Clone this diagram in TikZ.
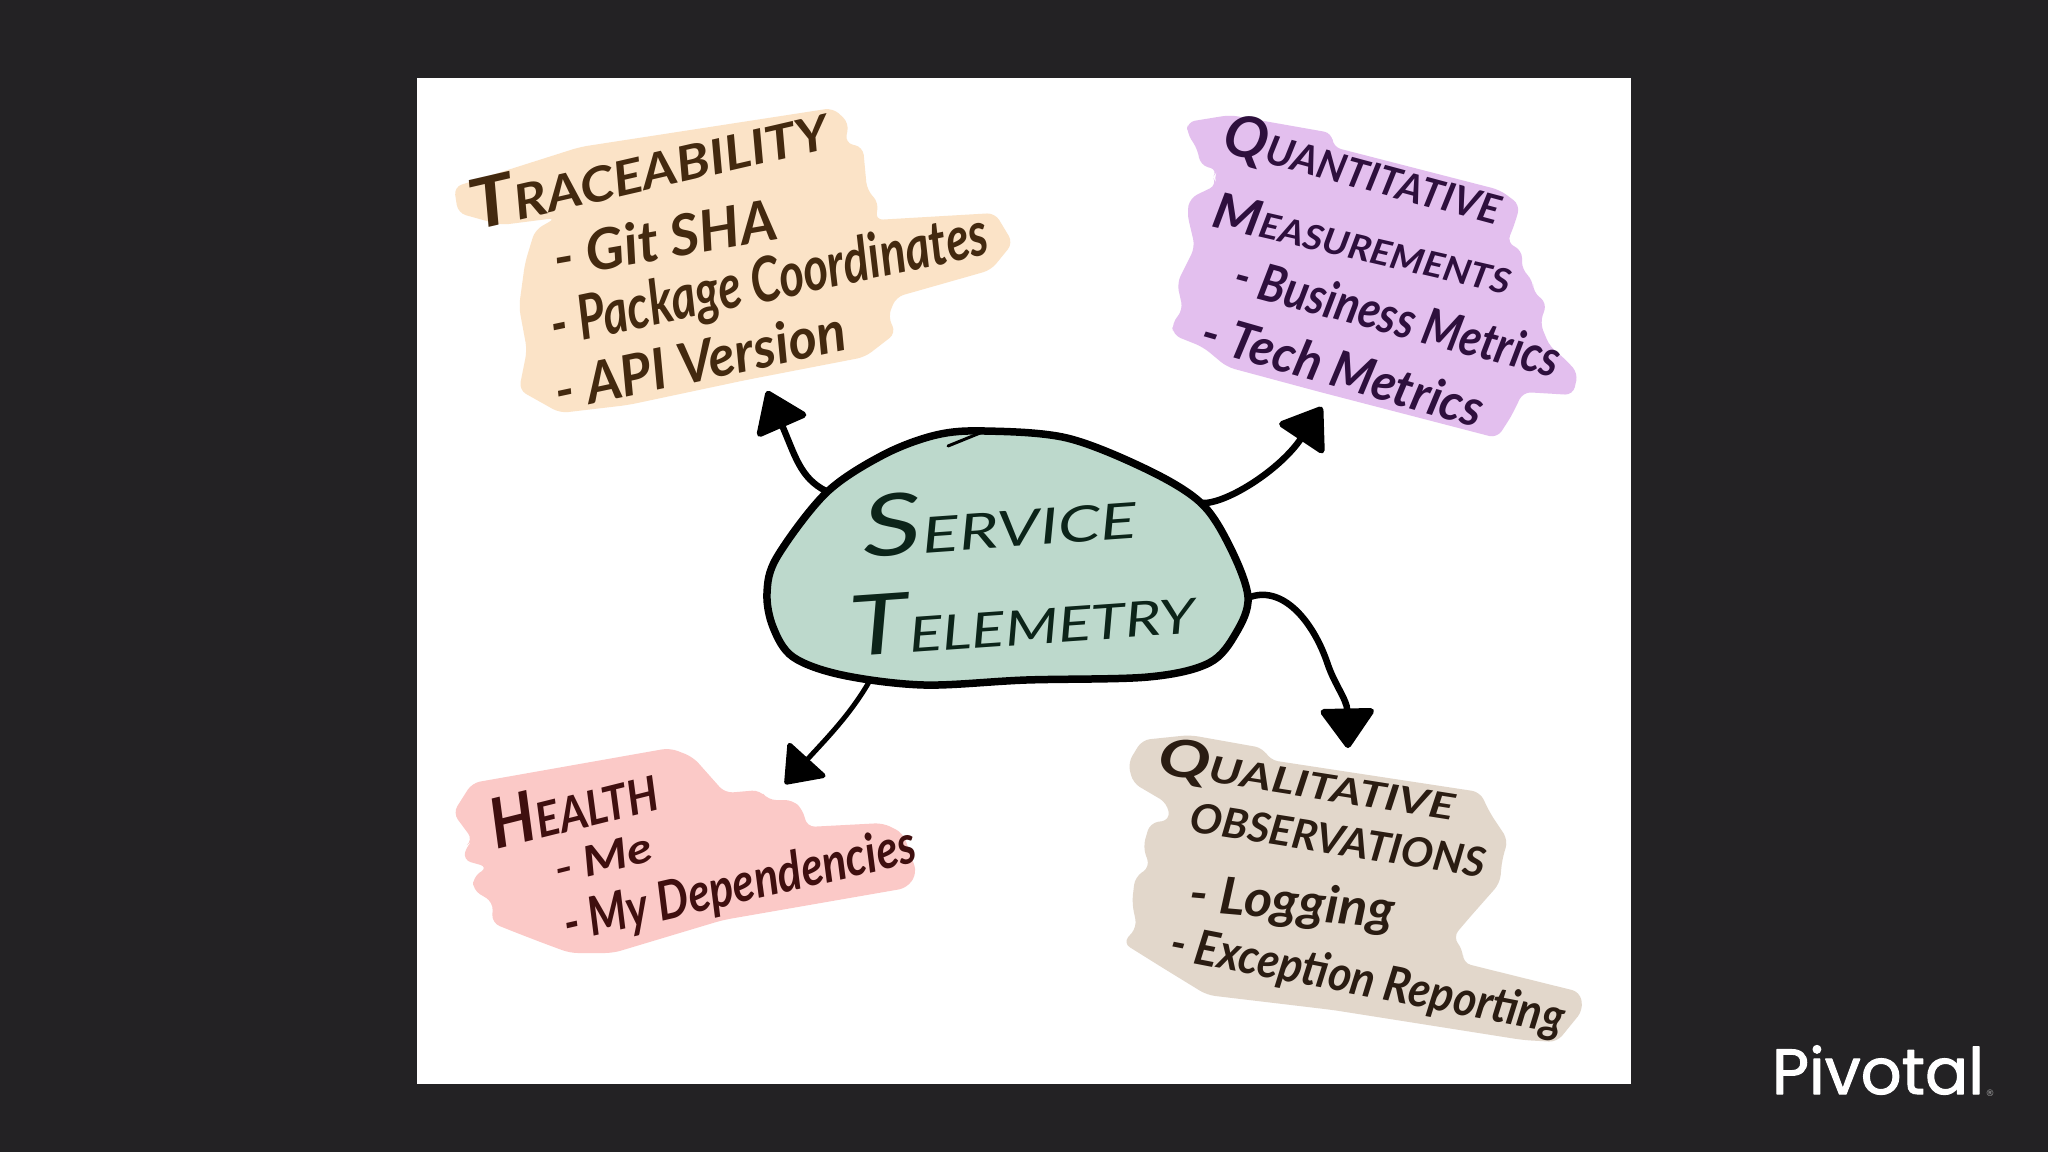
\documentclass[tikz,border=0pt]{standalone}
\usepackage{fontspec}
\usepackage{graphicx}
\setmainfont{Lato}
\newfontfamily\logofont{Poppins}[RawFeature={embolden=1.6}]
\newfontfamily\regfont{DejaVu Sans}
\usetikzlibrary{arrows.meta}
\definecolor{slidebg}{HTML}{232224}
\definecolor{yellowpatch}{HTML}{FBE3C7}
\definecolor{purplepatch}{HTML}{E3BFEE}
\definecolor{redpatch}{HTML}{FBC9C7}
\definecolor{beigepatch}{HTML}{E2D7CB}
\definecolor{blobfill}{HTML}{BDD9CC}
\definecolor{yellowink}{HTML}{43290F}
\definecolor{purpleink}{HTML}{2E0F3D}
\definecolor{redink}{HTML}{3F0F0F}
\definecolor{beigeink}{HTML}{2A1C12}
\definecolor{blobink}{HTML}{0C2419}
\newcommand{\hw}[3]{\resizebox{#1pt}{#2pt}{\bfseries\itshape #3}}
\newcommand{\hl}[3]{\resizebox{#1pt}{#2pt}{\itshape #3}}
\newcommand{\bigini}[2]{{\Large #1}#2}
\newcommand{\hugeini}[2]{{\LARGE #1}#2}
\tikzset{
  patch/.style={rounded corners=8pt},
  hand/.style={inner sep=0pt,anchor=center},
  connector/.style={line width=6.5pt,draw=black,line cap=round,
    -{Triangle[length=42pt,width=58pt,round]}},
}
\begin{document}
\begin{tikzpicture}[x=1pt,y=-1pt,line join=round]
\useasboundingbox (0,0) rectangle (2048,1152);
\fill[slidebg] (0,0) rectangle (2048,1152);
\fill[white] (417,78) rectangle (1631,1084);

% yellow patch
\fill[patch,yellowpatch] (454,187) -- (580,147) -- (833,108) -- (849,123) -- (845,143) -- (863,147) -- (867,190) -- (879,203) -- (875,220) -- (995,213) -- (1013,243) -- (991,270) -- (896,297) -- (888,317) -- (896,333) -- (865,357) -- (746,380) -- (628,405) -- (560,413) -- (519,390) -- (527,350) -- (519,307) -- (525,263) -- (535,230) -- (556,218) -- (501,225) -- (458,213) -- cycle;
% purple patch
\fill[patch,purplepatch] (1187,122) -- (1230,115) -- (1332,133) -- (1333,147) -- (1500,190) -- (1520,205) -- (1515,223) -- (1507,243) -- (1522,250) -- (1522,270) -- (1533,280) -- (1533,292) -- (1547,303) -- (1540,323) -- (1550,347) -- (1563,357) -- (1578,373) -- (1573,395) -- (1523,392) -- (1513,413) -- (1507,423) -- (1497,438) -- (1320,392) -- (1227,367) -- (1203,347) -- (1173,335) -- (1172,323) -- (1183,310) -- (1177,283) -- (1195,247) -- (1187,213) -- (1190,198) -- (1217,185) -- (1213,177) -- (1218,170) -- (1200,165) -- (1198,150) -- (1187,133) -- cycle;
% red patch
\fill[patch,redpatch] (453,813) -- (472,783) -- (670,748) -- (693,757) -- (725,793) -- (760,790) -- (768,800) -- (793,800) -- (803,810) -- (807,827) -- (883,823) -- (903,833) -- (917,873) -- (907,888) -- (723,920) -- (613,953) -- (570,953) -- (543,943) -- (517,933) -- (492,923) -- (493,902) -- (473,890) -- (473,877) -- (488,867) -- (463,860) -- (467,845) -- (473,840) -- cycle;
% beige patch
\fill[patch,beigepatch] (1128,763) -- (1142,740) -- (1190,735) -- (1263,748) -- (1270,760) -- (1480,792) -- (1490,813) -- (1508,840) -- (1502,860) -- (1500,883) -- (1470,917) -- (1453,937) -- (1463,950) -- (1463,963) -- (1580,992) -- (1583,1010) -- (1557,1042) -- (1523,1040) -- (1333,1010) -- (1207,995) -- (1163,968) -- (1123,943) -- (1137,927) -- (1132,903) -- (1135,877) -- (1150,867) -- (1143,847) -- (1150,823) -- (1170,820) -- (1167,803) -- (1133,783) -- cycle;

% central blob
\draw[line width=7.5pt,draw=black,fill=blobfill] plot[smooth cycle,tension=0.55] coordinates {(985,431) (1067,438) (1148,470) (1201,503) (1230,547) (1248,597) (1236,633) (1209,663) (1148,677) (1026,680) (924,685) (842,675) (793,657) (773,627) (767,593) (777,557) (826,493) (883,455) (936,435)};
\coordinate (tickA) at (948,446);
\coordinate (tickB) at (985,431);
\draw[line width=3pt,line cap=round,black] (tickA) -- (tickB);

% connector end points
\coordinate (startTrace) at (826,491);
\coordinate (startQuant) at (1201,503);
\coordinate (startQual) at (1250,597);
\coordinate (startHealth) at (869,682);
\coordinate (tipTrace) at (767,391);
\coordinate (tipQuant) at (1322,407);
\coordinate (tipQual) at (1348,748);
\coordinate (tipHealth) at (785,784);

\draw[connector] (startTrace) .. controls (800,478) and (795,455) .. (tipTrace);
\draw[connector] (startQuant) .. controls (1225,505) and (1280,470) .. (tipQuant);
\draw[connector] (startQual) .. controls (1285,585) and (1315,625) .. (1328,665) .. controls (1335,685) and (1347,700) .. (tipQual);
\draw[connector,line width=5pt,-{Triangle[length=36pt,width=54pt,round]}] (startHealth) .. controls (850,715) and (825,740) .. (tipHealth);

% texts
\node[hand,rotate=4,text=blobink] (service) at (999,517) {\hl{274}{62}{\hugeini{S}{ERVICE}}};
\node[hand,rotate=4,text=blobink] (telemetry) at (1022,615) {\hl{345}{60}{\hugeini{T}{ELEMETRY}}};

\node[hand,rotate=13,text=yellowink] (trace) at (648,165) {\hw{365}{50}{\bigini{T}{RACEABILITY}}};
\node[hand,rotate=10,text=yellowink] (git) at (665,238) {\hw{225}{42}{- Git SHA}};
\node[hand,rotate=12,text=yellowink] (pkg) at (770,283) {\hw{445}{46}{- Package Coordinates}};
\node[hand,rotate=12,text=yellowink] (api) at (700,360) {\hw{295}{42}{- API Version}};

\node[hand,rotate=-15,text=purpleink] (quant) at (1363,172) {\hw{285}{42}{\bigini{Q}{UANTITATIVE}}};
\node[hand,rotate=-13,text=purpleink] (meas) at (1363,243) {\hw{305}{36}{\bigini{M}{EASUREMENTS}}};
\node[hand,rotate=-15,text=purpleink] (biz) at (1398,317) {\hw{335}{38}{- Business Metrics}};
\node[hand,rotate=-16,text=purpleink] (tech) at (1343,370) {\hw{290}{38}{- Tech Metrics}};

\node[hand,rotate=14,text=redink] (health) at (573,805) {\hw{170}{50}{\bigini{H}{EALTH}}};
\node[hand,rotate=14,text=redink] (me) at (603,858) {\hw{100}{30}{- Me}};
\node[hand,rotate=13,text=redink] (deps) at (740,887) {\hw{360}{40}{- My Dependencies}};

\node[hand,rotate=-9,text=beigeink] (qual) at (1307,782) {\hw{300}{38}{\bigini{Q}{UALITATIVE}}};
\node[hand,rotate=-9,text=beigeink] (obs) at (1338,840) {\hw{298}{30}{OBSERVATIONS}};
\node[hand,rotate=-5,text=beigeink] (log) at (1292,905) {\hw{205}{38}{- Logging}};
\node[hand,rotate=-11,text=beigeink] (exc) at (1367,983) {\hw{400}{36}{- Exception Reporting}};

% logo
\node[inner sep=0pt,anchor=center,text=white] (logo) at (1878,1070) {\resizebox{212pt}{!}{\logofont Pivotal}};
\node[inner sep=0pt,text=white!60!slidebg,font=\regfont\fontsize{9}{9}\selectfont] (reg) at (1990,1093) {®};
\end{tikzpicture}
\end{document}
